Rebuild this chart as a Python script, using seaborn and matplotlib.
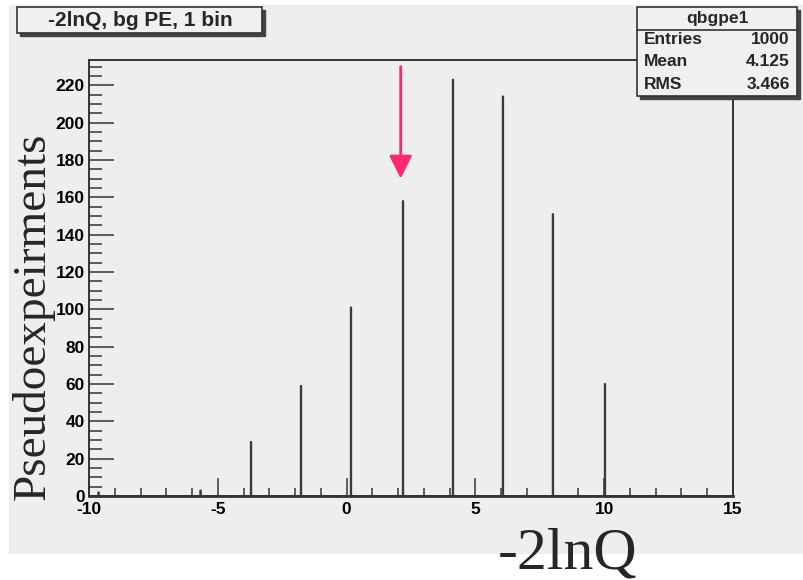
import numpy as np
import pandas as pd
import matplotlib.pyplot as plt
import seaborn as sns
from matplotlib.patches import Rectangle
from matplotlib.ticker import MultipleLocator

# filled bins of the -2lnQ histogram (bin centre, entries)
lnq = [-9.63, -5.67, -3.71, -1.77, 0.17, 2.19, 4.13, 6.07, 8.01, 10.03]
counts = [2, 3, 29, 59, 101, 158, 223, 214, 151, 60]
obs_lnq = 2.1
stats_name = "qbgpe1"
stats_rows = [("Entries", "1000"), ("Mean", "4.125"), ("RMS", "3.466")]

W, H = 804, 580
sns.set_style("ticks")
plt.rcParams['font.family'] = ['Liberation Sans', 'DejaVu Sans']
plt.rcParams['axes.unicode_minus'] = False

fig = plt.figure(figsize=(W / 100, H / 100), dpi=100, facecolor="white")

def fx(x):
    return x / W

def fy(y):
    return 1 - y / H

bg = "#eeeeee"
fig.patches.append(Rectangle((fx(9), fy(553)), fx(W) - fx(9), fy(5) - fy(553),
                             transform=fig.transFigure, color=bg, zorder=-10))

ax = fig.add_axes([fx(89), fy(496), fx(733) - fx(89), fy(60) - fy(496)])
ax.set_facecolor(bg)

df = pd.DataFrame({"lnq": lnq, "n": counts})
sns.histplot(data=df, x="lnq", weights="n", binwidth=0.02, binrange=(-10, 15),
             element="step", fill=False, color="#3a3a3a", linewidth=1.3, ax=ax)

ax.set_xlim(-10, 15)
ax.set_ylim(0, 233.5)
ax.xaxis.set_major_locator(MultipleLocator(5))
ax.xaxis.set_minor_locator(MultipleLocator(1))
ax.yaxis.set_major_locator(MultipleLocator(20))
ax.yaxis.set_minor_locator(MultipleLocator(5))
ax.tick_params(axis="both", which="both", direction="in", colors="#444444", width=1.2)
ax.tick_params(axis="x", which="major", length=13, pad=4)
ax.tick_params(axis="x", which="minor", length=6)
ax.tick_params(axis="y", which="major", length=18, pad=3)
ax.tick_params(axis="y", which="minor", length=9)
for lab in ax.get_xticklabels() + ax.get_yticklabels():
    lab.set_fontsize(12.5)
    lab.set_fontweight("bold")
    lab.set_color("black")
for sp in ax.spines.values():
    sp.set_color("#333333")
    sp.set_linewidth(1.4)
ax.spines["bottom"].set_linewidth(2)

ax.set_xlabel("")
ax.set_ylabel("")
fig.text(fx(33), fy(316), "Pseudoexpeirments", rotation=90, ha="center", va="center",
         family="Liberation Serif", fontsize=34)
fig.text(fx(568), fy(568), "-2lnQ", ha="center", va="baseline",
         family="Liberation Serif", fontsize=43)

# observed value arrow
ax.annotate("", xy=(obs_lnq, 170), xytext=(obs_lnq, 230),
            arrowprops=dict(arrowstyle="-|>,head_width=0.35,head_length=0.7",
                            mutation_scale=20, color="#ff2a6d", lw=2,
                            shrinkA=0, shrinkB=0))

# title box
def box(x0, y0, x1, y1):
    fig.patches.append(Rectangle((fx(x0 + 3), fy(y1 + 3)), fx(x1) - fx(x0), fy(y0) - fy(y1),
                                 transform=fig.transFigure, color="#444444", zorder=5))
    fig.patches.append(Rectangle((fx(x0), fy(y1)), fx(x1) - fx(x0), fy(y0) - fy(y1),
                                 transform=fig.transFigure, facecolor="#f0f0f0",
                                 edgecolor="#333333", lw=1.2, zorder=6))

box(17, 7, 262, 33)
fig.text(fx(140), fy(21), "-2lnQ, bg PE, 1 bin", ha="center", va="center",
         fontsize=15, fontweight="bold", zorder=7)

# stats box
box(637, 7, 797, 96)
fig.lines.append(plt.Line2D([fx(637), fx(797)], [fy(30), fy(30)],
                            transform=fig.transFigure, color="#333333", lw=1.2, zorder=7))
fig.text(fx(717), fy(19), stats_name, ha="center", va="center",
         fontsize=12.5, fontweight="bold", zorder=7)
for i, (k, v) in enumerate(stats_rows):
    yy = 40 + i * 22
    fig.text(fx(644), fy(yy), k, ha="left", va="center", fontsize=12.5,
             fontweight="bold", zorder=7)
    fig.text(fx(790), fy(yy), v, ha="right", va="center", fontsize=12.5,
             fontweight="bold", zorder=7)

fig.savefig("out.png", dpi=100, facecolor="white")
